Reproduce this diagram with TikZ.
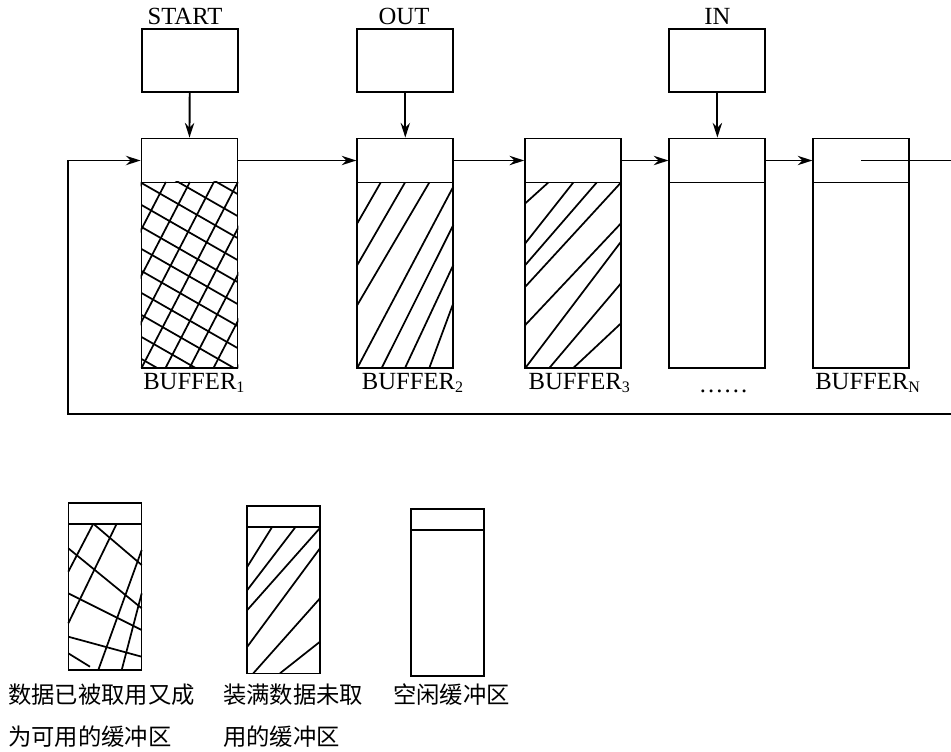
\documentclass[tikz,border=0pt]{standalone}
\usepackage{fontspec}
\setmainfont{Liberation Serif}
\newfontfamily\cjk{Noto Sans CJK SC}
\usetikzlibrary{arrows.meta}
\newcommand\subn[1]{\raisebox{-0.35ex}{\fontsize{12}{12}\selectfont #1}}
\begin{document}
\begin{tikzpicture}[x=0.75pt,y=-0.75pt,
  lw/.style={line width=1.4pt},
  box/.style={draw,lw,inner sep=0pt,minimum width={96*0.75pt}},
  hdr/.style={box,minimum height={44*0.75pt}},
  bodybox/.style={box,minimum height={185.5*0.75pt}},
  ptrbox/.style={box,minimum height={63*0.75pt}},
  lbox/.style={draw,lw,inner sep=0pt,minimum width={73*0.75pt}},
  lhdr/.style={lbox,minimum height={21*0.75pt}},
  lbody/.style={lbox,minimum height={146*0.75pt}},
  arr/.style={lw,-{Stealth[length=11pt,width=7pt]}},
  hatch/.style={line width=1.3pt},
  lab/.style={font=\fontsize{18.5}{22}\selectfont, inner sep=0pt},
  cn/.style={font=\cjk\fontsize{17.5}{20}\selectfont, inner sep=0pt, anchor=west}
]
\useasboundingbox (0,0) rectangle (951,751);

% pointer boxes
\node[ptrbox] (tS) at (189.7,60.5) {};
\node[ptrbox] (tO) at (405.3,60.5) {};
\node[ptrbox] (tI) at (717.4,60.5) {};
\node[lab,anchor=base] (lS) at (185,24) {START};
\node[lab,anchor=base] (lO) at (404,24) {OUT};
\node[lab,anchor=base] (lI) at (717.5,24) {IN};

% buffers
\node[hdr] (h1) at (189.5,160.5) {};
\node[bodybox] (b1) at (189.5,275.25) {};
\node[hdr] (h2) at (405.3,160.5) {};
\node[bodybox] (b2) at (405.3,275.25) {};
\node[hdr] (h3) at (573.2,160.5) {};
\node[bodybox] (b3) at (573.2,275.25) {};
\node[hdr] (h4) at (717.4,160.5) {};
\node[bodybox] (b4) at (717.4,275.25) {};
\node[hdr] (h5) at (861.3,160.5) {};
\node[bodybox] (b5) at (861.3,275.25) {};

% hatching buffer 1 (cross)
\begin{scope}
\clip (b1.south west) rectangle (b1.north east);
\foreach \k in {-4,...,4} \draw[hatch] ({141.5+24*\k},368) -- ++(96.4,-186);
\foreach \k in {-5,...,9} \draw[hatch] (141.5,{183+22*\k}) -- ++(96,55);
\end{scope}

% hatching buffer 2
\begin{scope}
\clip (b2.south west) rectangle (b2.north east);
\draw[hatch] (357.3,223.3)--(380.7,182.5);
\draw[hatch] (357.3,265)--(405,182.5);
\draw[hatch] (357.3,305)--(429.3,182.5);
\draw[hatch] (357.3,368)--(453.3,186.7);
\draw[hatch] (381.7,368)--(453.3,225);
\draw[hatch] (405,368)--(453.3,265);
\draw[hatch] (429.3,368)--(453.3,303.3);
\end{scope}

% hatching buffer 3
\begin{scope}
\clip (b3.south west) rectangle (b3.north east);
\draw[hatch] (525.3,203.3)--(548.3,182.5);
\draw[hatch] (525.3,243.3)--(573.3,182.5);
\draw[hatch] (525.3,265)--(596.7,182.5);
\draw[hatch] (525.3,286.7)--(621,182.5);
\draw[hatch] (525.3,325)--(621,223.3);
\draw[hatch] (525.3,368)--(621,241.7);
\draw[hatch] (549.3,368)--(621,283.3);
\draw[hatch] (573.3,368)--(621,323.3);
\end{scope}

% buffer labels
\node[lab,anchor=base west] (n1) at (143,389) {BUFFER\subn{1}};
\node[lab,anchor=base west] (n2) at (361.7,389) {BUFFER\subn{2}};
\node[lab,anchor=base west] (n3) at (528.3,389) {BUFFER\subn{3}};
\node[lab,anchor=base] (n4) at (723.5,392) {……};
\node[lab,anchor=base west] (n5) at (815,389) {BUFFER\subn{N}};

% arrows
\draw[arr] (tS.south) -- (h1.north);
\draw[arr] (tO.south) -- (h2.north);
\draw[arr] (tI.south) -- (h4.north);
\draw[arr] (h1.east) -- (h2.west);
\draw[arr] (h2.east) -- (h3.west);
\draw[arr] (h3.east) -- (h4.west);
\draw[arr] (h4.east) -- (h5.west);
\coordinate (e1) at (951,160.5);
\coordinate (e2) at (951,414);
\coordinate (cl) at (68,414);
\draw[lw] (h5.center) -- (e1);
\draw[arr] (e2) -- (cl) |- (h1.west);

% legend boxes
\node[lhdr] (g1) at (105,513.2) {};
\node[lbody] (k1) at (105,596.8) {};
\node[lhdr] (g2) at (283.7,516.8) {};
\node[lbody] (k2) at (283.7,600.5) {};
\node[lhdr] (g3) at (447.8,519.5) {};
\node[lbody] (k3) at (447.8,603) {};

\begin{scope}
\clip (k1.south west) rectangle (k1.north east);
\draw[hatch] (93.3,523.7)--(68.3,571.7);
\draw[hatch] (116.7,523.7)--(68.3,623.3);
\draw[hatch] (141.7,550)--(98.3,670);
\draw[hatch] (141.7,593.3)--(121.7,670);
\draw[hatch] (93.3,523.7)--(141.7,565);
\draw[hatch] (68.3,548.3)--(141.7,608.3);
\draw[hatch] (68.3,593.3)--(141.7,630);
\draw[hatch] (68.3,636.7)--(141.7,656.7);
\draw[hatch] (68.3,653.3)--(90,666.7);
\end{scope}

\begin{scope}
\clip (k2.south west) rectangle (k2.north east);
\draw[hatch] (247.3,566.7)--(271.7,527.7);
\draw[hatch] (247.3,590)--(295,527.7);
\draw[hatch] (247.3,610)--(320,528);
\draw[hatch] (247.3,646.7)--(320,548.3);
\draw[hatch] (253.3,673.3)--(320,598.3);
\draw[hatch] (280,673.3)--(320,641.7);
\end{scope}

% legend texts
\node[cn] (c1a) at (8,695) {数据已被取用又成};
\node[cn] (c1b) at (8,737) {为可用的缓冲区};
\node[cn] (c2a) at (223,695) {装满数据未取};
\node[cn] (c2b) at (223,737) {用的缓冲区};
\node[cn] (c3a) at (393,695) {空闲缓冲区};
\end{tikzpicture}
\end{document}
